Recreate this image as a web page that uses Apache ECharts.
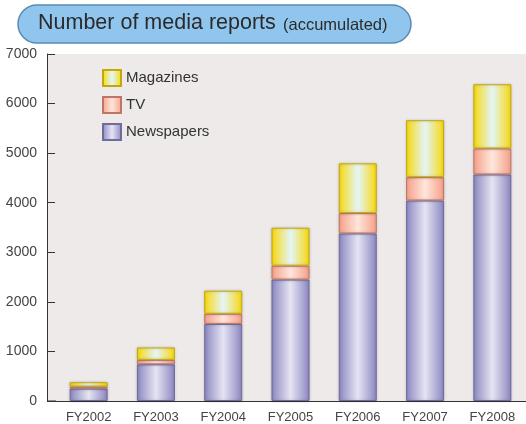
<!DOCTYPE html>
<html>
<head>
<meta charset="utf-8">
<script src="https://cdn.jsdelivr.net/npm/echarts@6/dist/echarts.min.js"></script>
<style>
html,body{margin:0;padding:0;background:#fff;}
#c{width:526px;height:424px;}
</style>
</head>
<body>
<div id="c"></div>
<script>
var categories = ['FY2002','FY2003','FY2004','FY2005','FY2006','FY2007','FY2008'];
var newspapers = [250, 740, 1555, 2450, 3380, 4045, 4570];
var tv = [40, 90, 205, 280, 410, 470, 525];
var magazines = [90, 250, 465, 765, 1005, 1150, 1295];
var yTicks = {min: 0, max: 7000, interval: 1000};

function grad(edge, mid) {
  return new echarts.graphic.LinearGradient(0, 0, 1, 0, [
    {offset: 0, color: edge},
    {offset: 0.5, color: mid},
    {offset: 1, color: edge}
  ]);
}
var FONT = 'Liberation Sans, Arial, sans-serif';
var chart = echarts.init(document.getElementById('c'));
chart.setOption({
  animation: false,
  textStyle: {fontFamily: FONT},
  graphic: [
    {type: 'rect', z: -10, shape: {x: 47, y: 54, width: 479, height: 347}, style: {fill: '#eeeae9'}},
    {type: 'line', z: 5, shape: {x1: 47, y1: 401, x2: 56, y2: 401}, style: {stroke: '#333', lineWidth: 1}},
    {type: 'rect', shape: {x: 18, y: 5, width: 393, height: 38, r: 19},
     style: {fill: '#90c6ee', stroke: '#5b89b0', lineWidth: 1.5}},
    {type: 'text', x: 38, y: 23,
     style: {text: 'Number of media reports', fontSize: 21.5, fill: '#2b2b2b', fontFamily: FONT,
             align: 'left', verticalAlign: 'middle'}},
    {type: 'text', x: 283, y: 25,
     style: {text: '(accumulated)', fontSize: 16.5, fill: '#2b2b2b', fontFamily: FONT,
             align: 'left', verticalAlign: 'middle'}}
  ],
  legend: {
    left: 97, top: 64, orient: 'vertical', icon: 'rect',
    itemWidth: 18, itemHeight: 16, itemGap: 9,
    data: ['Magazines', 'TV', 'Newspapers'],
    textStyle: {fontSize: 15, color: '#333', fontFamily: FONT}
  },
  grid: {left: 55, right: 0, top: 54, bottom: 23, containLabel: false},
  xAxis: {
    type: 'category', data: categories,
    axisLine: {lineStyle: {color: '#333', width: 1}},
    axisTick: {inside: true, length: 7, lineStyle: {color: '#333'}},
    axisLabel: {fontSize: 13, color: '#444', margin: 10, fontFamily: FONT}
  },
  yAxis: {
    type: 'value', min: yTicks.min, max: yTicks.max, interval: yTicks.interval,
    offset: 8,
    splitLine: {show: false},
    axisLine: {show: true, lineStyle: {color: '#333', width: 1}},
    axisTick: {show: true, inside: true, length: 8, lineStyle: {color: '#333'}},
    axisLabel: {fontSize: 14, color: '#444', margin: 10, fontFamily: FONT,
                formatter: function (v) { return String(v); }}
  },
  series: [
    {name: 'Newspapers', type: 'bar', stack: 't', data: newspapers, barWidth: 38,
     itemStyle: {color: grad('#8b87c1', '#e6e4f3'), borderColor: '#6f6b9c', borderWidth: 1,
                 shadowBlur: 3, shadowColor: 'rgba(0,0,0,0.2)'}},
    {name: 'TV', type: 'bar', stack: 't', data: tv, barWidth: 38,
     itemStyle: {color: grad('#f5a088', '#ffe6dc'), borderColor: '#c07462', borderWidth: 1,
                 shadowBlur: 3, shadowColor: 'rgba(0,0,0,0.2)'}},
    {name: 'Magazines', type: 'bar', stack: 't', data: magazines, barWidth: 38,
     itemStyle: {color: grad('#f8d80a', '#e4f5f9'), borderColor: '#c4a80a', borderWidth: 1,
                 shadowBlur: 3, shadowColor: 'rgba(0,0,0,0.2)'}}
  ]
});
</script>
</body>
</html>
